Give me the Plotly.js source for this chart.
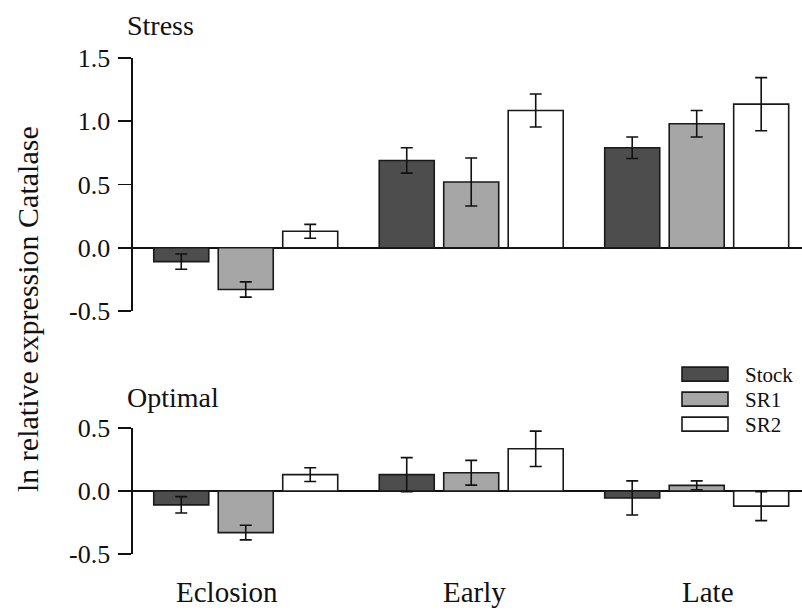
<!DOCTYPE html>
<html>
<head>
<meta charset="utf-8">
<script src="https://cdn.plot.ly/plotly-3.0.1.min.js"></script>
<style>html,body{margin:0;padding:0;background:#fff;}#chart{width:802px;height:614px;}</style>
</head>
<body>
<div id="chart"></div>
<script>
// ---- data ----
var categories = ["Eclosion", "Early", "Late"];
var seriesNames = ["Stock", "SR1", "SR2"];
var seriesColors = ["#4d4d4d", "#a6a6a6", "#ffffff"];

var stressStock = [-0.11, 0.69, 0.79];
var stressStockErr = [0.06, 0.10, 0.085];
var stressSR1 = [-0.33, 0.52, 0.98];
var stressSR1Err = [0.06, 0.19, 0.105];
var stressSR2 = [0.13, 1.085, 1.135];
var stressSR2Err = [0.055, 0.13, 0.21];

var optimalStock = [-0.11, 0.13, -0.055];
var optimalStockErr = [0.065, 0.135, 0.135];
var optimalSR1 = [-0.33, 0.145, 0.045];
var optimalSR1Err = [0.058, 0.098, 0.035];
var optimalSR2 = [0.13, 0.335, -0.12];
var optimalSR2Err = [0.055, 0.14, 0.115];

var stressTickVals = [-0.5, 0, 0.5, 1.0, 1.5];
var stressTickText = ["-0.5", "0.0", "0.5", "1.0", "1.5"];
var optimalTickVals = [-0.5, 0, 0.5];
var optimalTickText = ["-0.5", "0.0", "0.5"];

var panelTitles = ["Stress", "Optimal"];
var yTitle = "ln relative expression Catalase";

// ---- build ----
var FONT = "'Liberation Serif', 'Times New Roman', Times, serif";
var stressVals = [stressStock, stressSR1, stressSR2];
var stressErrs = [stressStockErr, stressSR1Err, stressSR2Err];
var optVals = [optimalStock, optimalSR1, optimalSR2];
var optErrs = [optimalStockErr, optimalSR1Err, optimalSR2Err];

var traces = [];
function mk(vals, errs, i, xa, ya, showleg) {
  return {
    type: "bar", x: categories, y: vals, name: seriesNames[i],
    xaxis: xa, yaxis: ya, showlegend: showleg,
    marker: {color: seriesColors[i], line: {color: "#1a1a1a", width: 1.6}},
    error_y: {type: "data", array: errs, visible: true, color: "#111", thickness: 1.6, width: 6}
  };
}
for (var i = 0; i < 3; i++) traces.push(mk(stressVals[i], stressErrs[i], i, "x", "y", false));
for (var i = 0; i < 3; i++) traces.push(mk(optVals[i], optErrs[i], i, "x2", "y2", true));

var xr = [-0.5, 2.467];
var xdom = [133/802, 1];
function py(p) { return 1 - p/614; }

var yBase = {
  showgrid: false, zeroline: true, zerolinecolor: "#111", zerolinewidth: 1.6,
  showline: true, linecolor: "#111", linewidth: 1.6, ticks: "outside", ticklen: 13,
  tickwidth: 1.6, tickcolor: "#111", tickfont: {family: FONT, size: 26, color: "#111"},
  ticklabelstandoff: 3, fixedrange: true, automargin: false
};
var xBase = {
  type: "category", range: xr, domain: xdom, showgrid: false, zeroline: false,
  showline: false, ticks: "", showticklabels: false, fixedrange: true
};

var layout = {
  width: 802, height: 614,
  margin: {l: 0, r: 0, t: 0, b: 0},
  paper_bgcolor: "#ffffff", plot_bgcolor: "rgba(0,0,0,0)",
  barmode: "group", bargap: 0.142, bargroupgap: 0.147,
  font: {family: FONT, color: "#111"},
  xaxis: Object.assign({}, xBase, {anchor: "y"}),
  xaxis2: Object.assign({}, xBase, {anchor: "y2"}),
  yaxis: Object.assign({}, yBase, {domain: [py(311), py(58)], range: [-0.5, 1.5],
    tickvals: stressTickVals, ticktext: stressTickText, anchor: "x"}),
  yaxis2: Object.assign({}, yBase, {domain: [py(554), py(428)], range: [-0.5, 0.5],
    tickvals: optimalTickVals, ticktext: optimalTickText, anchor: "x2"}),
  showlegend: true,
  legend: {x: 665/802, y: py(354), xanchor: "left", yanchor: "top",
    font: {family: FONT, size: 21, color: "#111"}, itemwidth: 70,
    bgcolor: "rgba(0,0,0,0)", tracegroupgap: 0, traceorder: "normal"},
  annotations: [
    {text: panelTitles[0], xref: "paper", yref: "paper", x: 125/802, y: py(25),
     xanchor: "left", yanchor: "middle", showarrow: false, font: {family: FONT, size: 28, color: "#111"}},
    {text: panelTitles[1], xref: "paper", yref: "paper", x: 125/802, y: py(397),
     xanchor: "left", yanchor: "middle", showarrow: false, font: {family: FONT, size: 28, color: "#111"}},
    {text: yTitle, xref: "paper", yref: "paper", x: 27/802, y: py(309), textangle: -90,
     xanchor: "center", yanchor: "middle", showarrow: false, font: {family: FONT, size: 30, color: "#111"}}
  ]
};
var shifts = [-19, 3, 11];
for (var k = 0; k < categories.length; k++) {
  layout.annotations.push({text: categories[k], xref: "x2", yref: "paper", x: categories[k],
    xshift: shifts[k], y: py(592), xanchor: "center", yanchor: "middle", showarrow: false,
    font: {family: FONT, size: 29, color: "#111"}});
}

Plotly.newPlot("chart", traces, layout, {staticPlot: true, displayModeBar: false}).then(function () {
  var paths = document.querySelectorAll(".legend path.legendbar, .legend .legendpoints path");
  paths.forEach(function (p) { p.setAttribute("d", "M-23,-7H23V7H-23Z"); });
  var items = document.querySelectorAll(".legend .traces");
  if (items.length) {
    var m = /translate\(\s*([-\d.]+)[ ,]+([-\d.]+)/.exec(items[0].getAttribute("transform") || "");
    if (m) {
      var x0 = parseFloat(m[1]), y0 = parseFloat(m[2]);
      items.forEach(function (g, idx) {
        g.setAttribute("transform", "translate(" + x0 + "," + (y0 + idx * 25) + ")");
      });
    }
  }
});
</script>
</body>
</html>
